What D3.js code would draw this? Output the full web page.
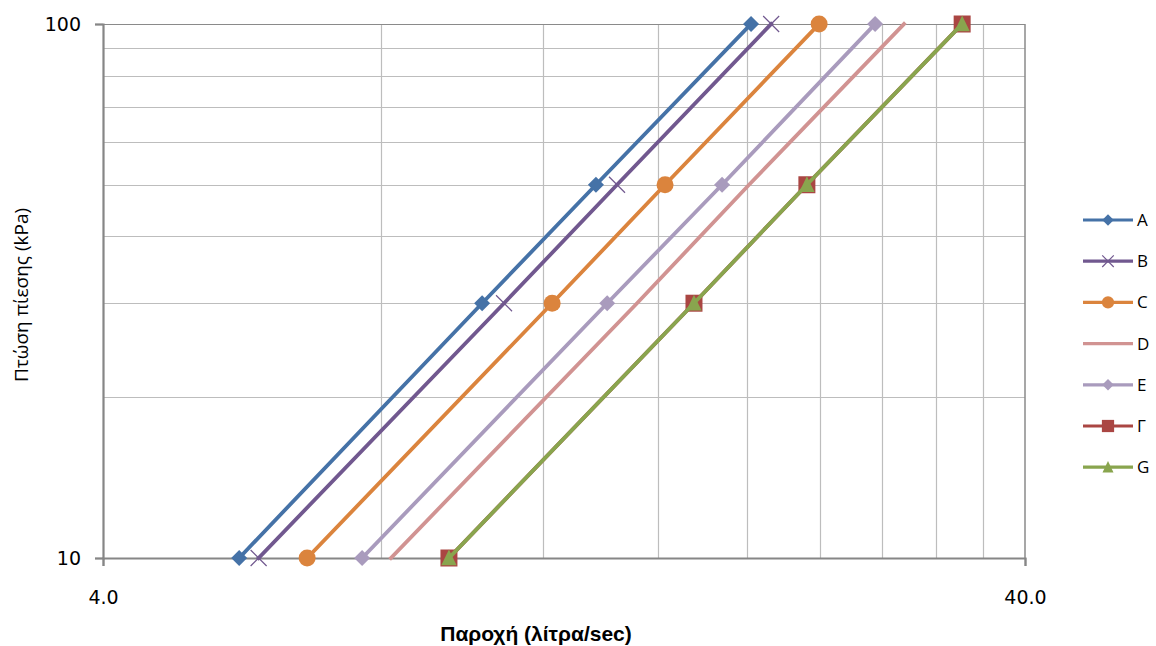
<!DOCTYPE html>
<html lang="el">
<head>
    <meta charset="utf-8">
    <title>Παροχή - Πτώση πίεσης</title>
    <script src="https://cdn.jsdelivr.net/npm/d3@7"></script>
    <style>
        body { margin: 0; background: #fff; }
        svg { display: block; }
    </style>
</head>
<body>
<script>
    // pressure drop points (kPa) where markers sit
    var pressure = [10, 30, 50, 100];
    var seriesNames = ["A", "B", "C", "D", "E", "Γ", "G"];
    // flow (litres/sec) for each series
    var flowA = [5.62, 10.31, 13.70, 20.18];
    var flowB = [5.90, 10.89, 14.44, 21.22];
    var flowC = [6.66, 12.28, 16.28, 23.92];
    var flowD = [8.21, 15.18, 20.08, 29.57];
    var flowE = [7.64, 14.09, 18.77, 27.51];
    var flowGamma = [9.49, 17.50, 23.20, 34.19];
    var flowG = [9.49, 17.50, 23.20, 34.19];
    var xTickLabels = ["4.0", "40.0"];
    var yTickLabels = ["10", "100"];

    var W = 1156, H = 646;
    var mLeft = 103, mRight = 1025, mTop = 24, mBottom = 558;

    var flows = [flowA, flowB, flowC, flowD, flowE, flowGamma, flowG];
    var colors = ["#4572A7", "#71588F", "#DB843D", "#D19392", "#A99BBD", "#AA4643", "#89A54E"];
    var markers = ["diamond", "cross", "circle", "none", "diamond", "square", "triangle"];

    var series = seriesNames.map(function(n, i) {
        return {
            name: n, color: colors[i], marker: markers[i],
            points: pressure.map(function(p, j) { return { q: flows[i][j], p: p }; })
        };
    });

    var x = d3.scaleLog().domain([4, 40]).range([mLeft, mRight]);
    var y = d3.scaleLog().domain([10, 100]).range([mBottom, mTop]);

    var svg = d3.select("body").append("svg")
            .attr("width", W).attr("height", H);

    // minor gridlines
    var xGrid = d3.range(8, 40, 4);
    var yGrid = d3.range(20, 100, 10);
    svg.append("g").selectAll("line").data(xGrid).enter().append("line")
            .attr("x1", function(d) { return Math.round(x(d)) + 0.5; })
            .attr("x2", function(d) { return Math.round(x(d)) + 0.5; })
            .attr("y1", mTop).attr("y2", mBottom)
            .attr("stroke", "#bdbdbd").attr("stroke-width", 1.2);
    svg.append("g").selectAll("line").data(yGrid.concat([100])).enter().append("line")
            .attr("y1", function(d) { return Math.round(y(d)) + 0.5; })
            .attr("y2", function(d) { return Math.round(y(d)) + 0.5; })
            .attr("x1", mLeft).attr("x2", mRight)
            .attr("stroke", function(d) { return d === 100 ? "#8a8a8a" : "#bdbdbd"; })
            .attr("stroke-width", 1.2);
    // right edge of plot
    svg.append("line")
            .attr("x1", x(40)).attr("x2", x(40)).attr("y1", mTop).attr("y2", mBottom)
            .attr("stroke", "#8a8a8a").attr("stroke-width", 1.5);

    // axes
    var xAxis = d3.axisBottom(x).tickValues([4, 40]).tickSize(8)
            .tickFormat(function(d, i) { return xTickLabels[i]; });
    var yAxis = d3.axisLeft(y).tickValues([10, 100]).tickSize(8)
            .tickFormat(function(d, i) { return yTickLabels[i]; });

    var gx = svg.append("g").attr("transform", "translate(0," + mBottom + ")").call(xAxis);
    var gy = svg.append("g").attr("transform", "translate(" + mLeft + ",0)").call(yAxis);
    [gx, gy].forEach(function(g) {
        g.select(".domain").attr("stroke", "#868686").attr("stroke-width", 2.2);
        g.selectAll(".tick line").attr("stroke", "#868686").attr("stroke-width", 1.5);
        g.selectAll("text").attr("fill", "#000")
                .attr("font-family", "'DejaVu Sans', sans-serif").attr("font-size", 19);
    });
    gx.selectAll("text").attr("dy", null).attr("y", 46);
    gy.selectAll("text").attr("x", -22).attr("dy", "0.35em");

    // series lines
    var line = d3.line()
            .x(function(d) { return x(d.q); })
            .y(function(d) { return y(d.p); });

    // Excel-like marker shapes, r = half-width in px
    function markerPath(kind, r) {
        if (kind === "diamond") {
            return "M0," + (-r) + "L" + r + ",0L0," + r + "L" + (-r) + ",0Z";
        }
        if (kind === "square") {
            return "M" + (-r) + "," + (-r) + "H" + r + "V" + r + "H" + (-r) + "Z";
        }
        if (kind === "triangle") {
            return "M0," + (-r) + "L" + (r * 0.9) + "," + (r * 0.85) + "L" + (-r * 0.9) + "," + (r * 0.85) + "Z";
        }
        if (kind === "circle") {
            return d3.symbol().type(d3.symbolCircle).size(Math.PI * r * r)();
        }
        return "";
    }
    var markerR = { diamond: 8, circle: 8.5, square: 8.5, triangle: 8.5, cross: 8 };

    function drawMarker(g, kind, color, px, py, scale) {
        scale = scale || 1;
        if (kind === "none") return;
        var r = markerR[kind] * scale;
        if (kind === "cross") {
            g.append("path")
                    .attr("d", "M" + (px - r) + "," + (py - r) + "L" + (px + r) + "," + (py + r) +
                            "M" + (px - r) + "," + (py + r) + "L" + (px + r) + "," + (py - r))
                    .attr("stroke", color).attr("stroke-width", 1.2).attr("fill", "none");
            return;
        }
        g.append("path")
                .attr("d", markerPath(kind, r))
                .attr("transform", "translate(" + px + "," + py + ")")
                .attr("fill", color);
    }

    series.forEach(function(s) {
        var g = svg.append("g");
        g.append("path").datum(s.points)
                .attr("d", line)
                .attr("fill", "none")
                .attr("stroke", s.color)
                .attr("stroke-width", 3.8)
                .attr("stroke-linecap", "square");
        s.points.forEach(function(d) {
            drawMarker(g, s.marker, s.color, x(d.q), y(d.p), 1);
        });
    });

    // legend
    var lg = svg.append("g");
    series.forEach(function(s, i) {
        var ly = 220 + i * 41.2;
        lg.append("line")
                .attr("x1", 1083).attr("x2", 1133).attr("y1", ly).attr("y2", ly)
                .attr("stroke", s.color).attr("stroke-width", 3.2);
        drawMarker(lg, s.marker, s.color, 1108, ly, 0.72);
        lg.append("text").attr("x", 1137).attr("y", ly).attr("dy", "0.35em")
                .attr("font-family", "'Open Sans', 'Liberation Sans', sans-serif")
                .attr("font-size", 17).text(s.name);
    });

    // axis titles
    svg.append("text")
            .attr("x", 536).attr("y", 641)
            .attr("text-anchor", "middle")
            .attr("font-family", "'Liberation Sans', Arial, sans-serif")
            .attr("font-weight", "bold").attr("font-size", 21)
            .text("Παροχή (λίτρα/sec)");
    svg.append("text")
            .attr("transform", "translate(21,295) rotate(-90)")
            .attr("text-anchor", "middle")
            .attr("dy", "0.35em")
            .attr("font-family", "'Open Sans', 'Liberation Sans', sans-serif")
            .attr("font-size", 19)
            .text("Πτώση πίεσης (kPa)");
</script>
</body>
</html>
